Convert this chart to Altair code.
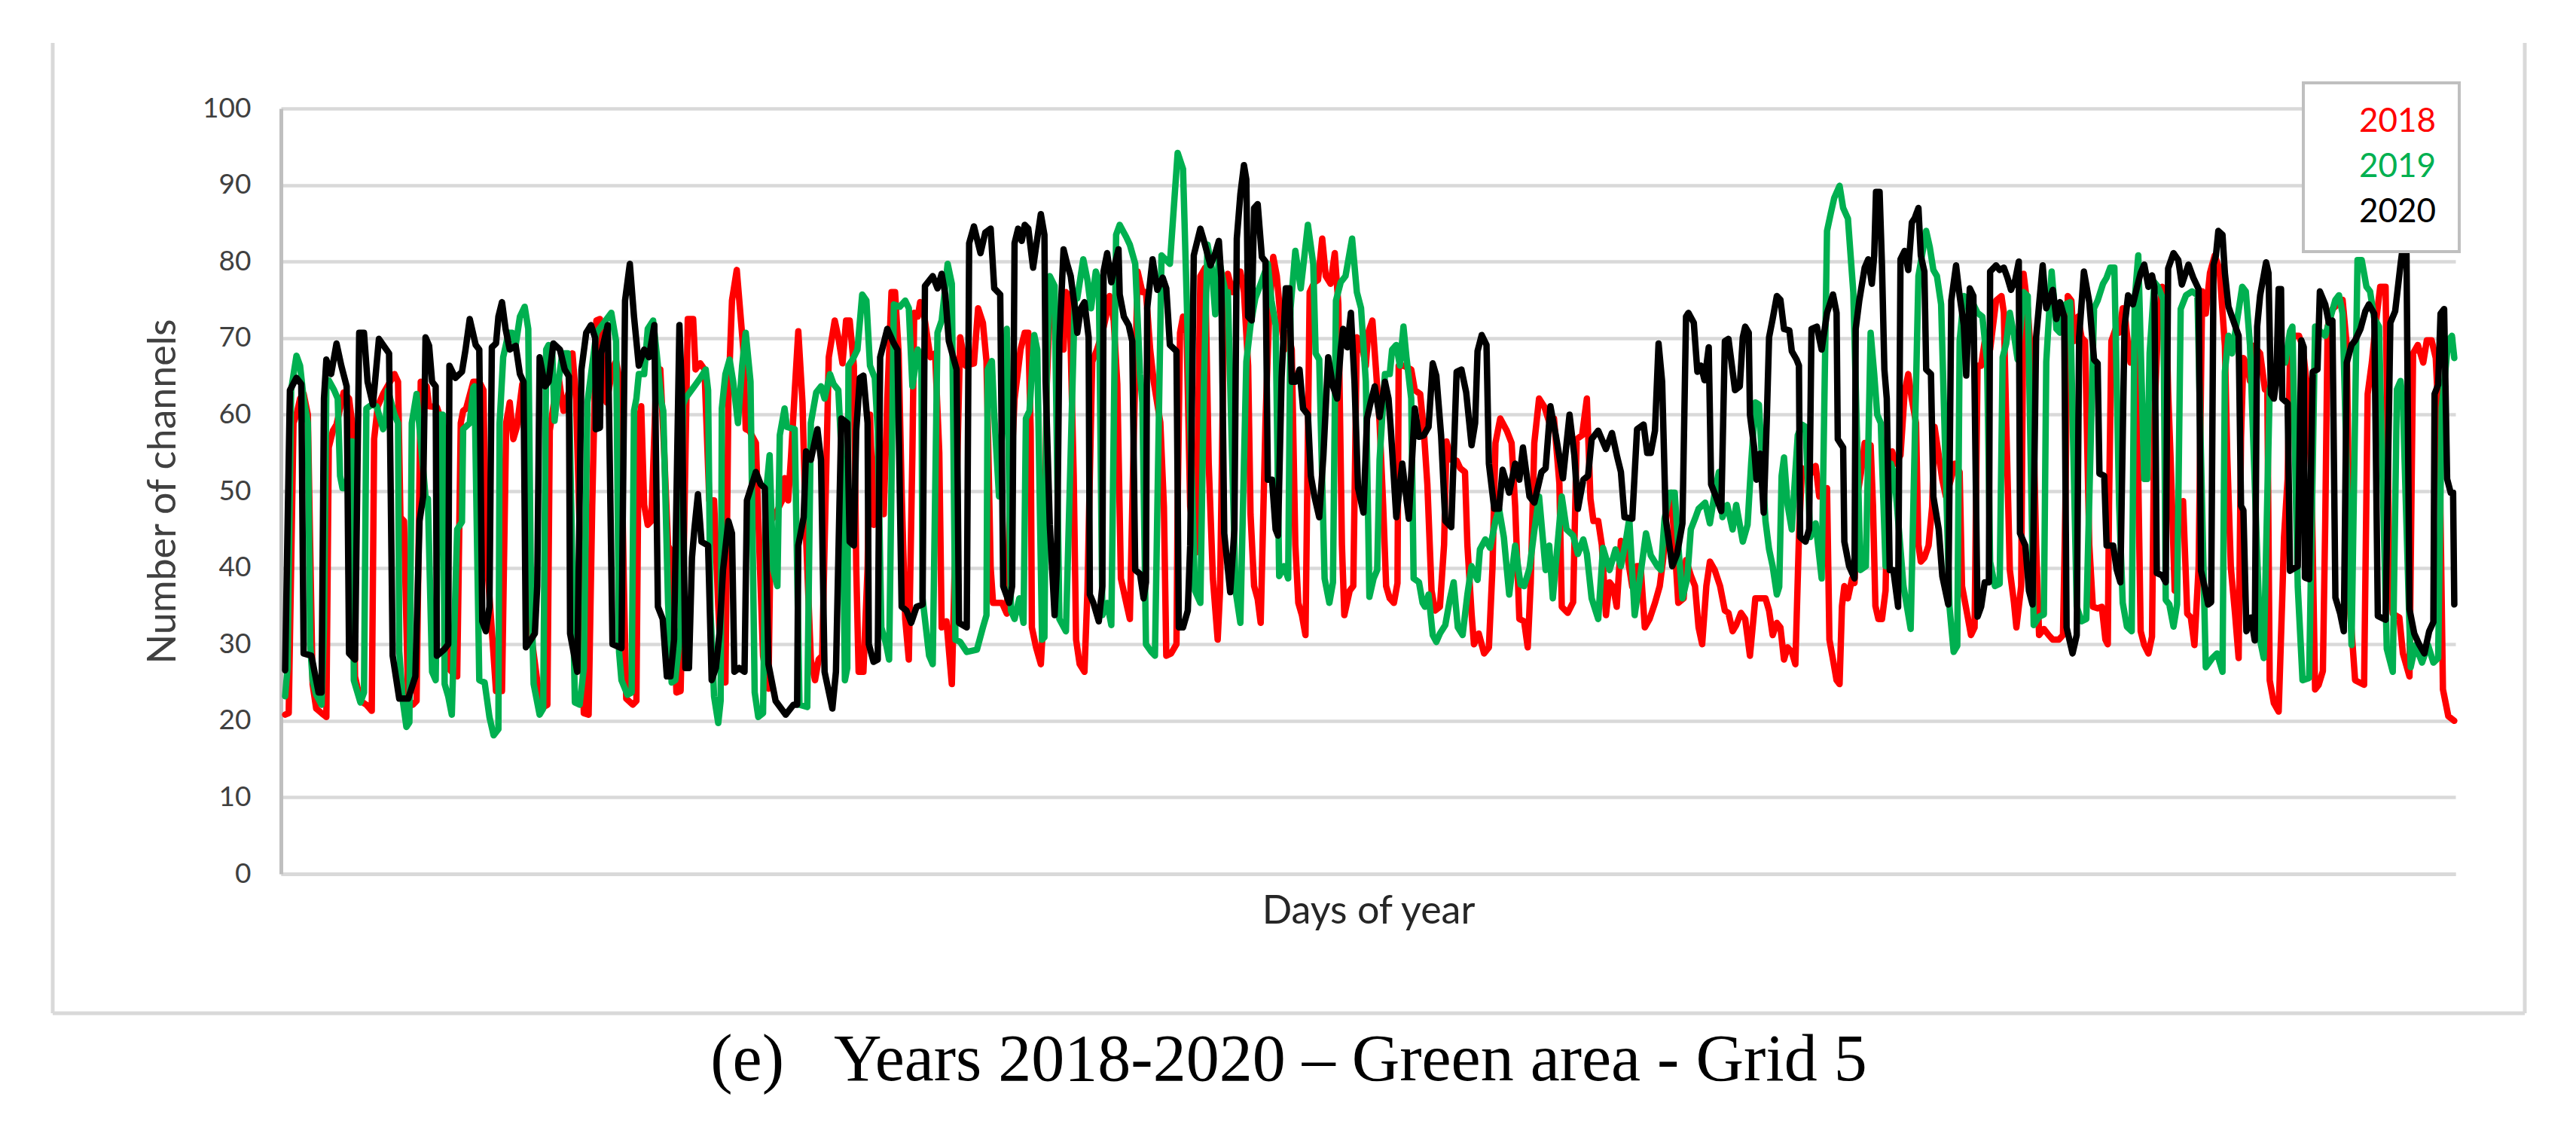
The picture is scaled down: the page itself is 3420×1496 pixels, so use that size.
import altair as alt
import pandas as pd

YEARS = ["2018", "2019", "2020"]
COLORS = ["#ff0000", "#00b050", "#000000"]
Y_TICKS = [0, 10, 20, 30, 40, 50, 60, 70, 80, 90, 100]
TITLE = "(e)\u00a0\u00a0\u00a0Years 2018-2020 \u2013 Green area - Grid 5"

# (day of year, number of channels)
s2018 = [
    (1.7, 20.8), (2.3, 21), (3.1, 58.9), (3.6, 60), (4.2, 62.1), (4.8, 62.7), (5.5, 60), (6.3, 24.8),
    (6.9, 21.6), (7.8, 21), (8.6, 20.5), (9.0, 55.7), (9.7, 57.9), (10.3, 58.7), (11.5, 62.9), (12.4, 62.1),
    (13.0, 58.4), (13.4, 25.8), (14.3, 22.6), (15.3, 22.1), (16.2, 21.3), (16.6, 56.8), (17.2, 61.1),
    (18.1, 62.7), (20.0, 65.3), (20.6, 64.3), (21.0, 46.6), (21.6, 46.1), (22.3, 22.5), (23.1, 22.1),
    (23.7, 22.6), (24.4, 64.3), (25.4, 63.7), (25.8, 61.1), (27.1, 61), (28.4, 58), (29.0, 26.9),
    (29.6, 26.4), (30.5, 25.8), (31.1, 58.9), (31.5, 60.5), (32.0, 60.8), (33.2, 64.3), (34.2, 64.3),
    (34.9, 63.2), (35.3, 42.9), (36.6, 28.5), (37.0, 23.9), (38.0, 23.9), (38.7, 58.9), (39.3, 61.6),
    (39.9, 56.8), (40.5, 58.4), (41.4, 64), (42.2, 50), (43.1, 30), (44.5, 21.6), (45.6, 22.1),
    (46.0, 57.9), (46.8, 62.1), (47.5, 64.8), (48.3, 60.5), (49.2, 63), (49.8, 68), (50.4, 62), (51.0, 45),
    (51.7, 21), (52.5, 20.8), (53.1, 48), (53.8, 72.3), (54.4, 72.5), (55.0, 65), (55.5, 61.6), (56.5, 66),
    (57.1, 67), (57.8, 64), (58.4, 38), (58.8, 22.9), (59.9, 22.1), (60.5, 22.6), (60.9, 58.9),
    (61.3, 61.1), (61.8, 48.2), (62.4, 45.6),
    (63.0, 46.1), (63.7, 62), (64.5, 65.9), (65.1, 56), (65.8, 42.9), (66.4, 42), (67.2, 23.7), (67.9, 23.9),
    (68.5, 45), (69.1, 72.5), (70.0, 72.5), (70.4, 65.9), (71.2, 66.7), (71.9, 65.9), (72.7, 48.8),
    (73.5, 48.8), (74.2, 35), (74.8, 25.5), (75.4, 25), (75.9, 62.1), (76.5, 74.9), (77.3, 78.9), (78.0, 72.3),
    (78.4, 68.5), (78.8, 58.1), (79.4, 57.9), (80.5, 56.3), (81.1, 42), (81.7, 28.5), (82.6, 24.2),
    (83.0, 46.1), (83.8, 47), (84.9, 48.8), (85.3, 51.7), (85.9, 48.8), (86.4, 54.7), (87.0, 63), (87.6, 70.9),
    (88.3, 61.6), (88.9, 44), (89.7, 28), (90.4, 25.3), (91.0, 28), (91.6, 28.5), (92.2, 50), (92.7, 67.5),
    (93.7, 72.3), (94.3, 70.1), (95.0, 66.7), (95.6, 72.3), (96.2, 72.3), (96.9, 66.4), (97.3, 40),
    (97.7, 26.4), (98.5, 26.4), (99.2, 40), (99.6, 60), (100.2, 45.6), (101.1, 57), (101.9, 47), (102.5, 62),
    (103.2, 76), (103.8, 76), (104.4, 68), (104.9, 50), (105.5, 33.3), (106.1, 28), (106.7, 55), (107.0, 73.3),
    (107.6, 72.8), (108.0, 74.7), (108.6, 73.3), (109.7, 67.5), (110.5, 68), (111.2, 55), (111.6, 32.2),
    (112.4, 33), (113.3, 24.8), (114.1, 50), (114.7, 70.1), (115.6, 66.4), (117.0, 66.7), (117.7, 73.9),
    (118.5, 72), (119.1, 67), (119.8, 40), (120.2, 35.4), (121.7, 35.4), (122.5, 34), (123.1, 50), (123.8, 62),
    (124.8, 68.5), (125.5, 70.7), (126.1, 70.7), (126.5, 58), (126.7, 32.2), (127.4, 29.6), (128.2, 27.4),
    (128.6, 33), (129.2, 64), (129.7, 73.9), (130.5, 73), (131.3, 69), (132.0, 68.5), (132.4, 76), (133.0, 75.5),
    (133.7, 52), (134.1, 30.6), (134.7, 27.4), (135.5, 26.4), (136.0, 37), (136.8, 66.9), (137.6, 68.5),
    (138.5, 70.7), (139.1, 72.8), (139.7, 75.5), (140.4, 72.3), (141.0, 64), (141.6, 38.6), (142.5, 35.4),
    (143.1, 33.3), (143.7, 55), (144.4, 78.7), (145.2, 76), (145.8, 76), (146.5, 68.5), (147.1, 64.3),
    (148.2, 59), (148.8, 48), (149.2, 28.5), (150.0, 28.8), (150.9, 30), (151.1, 48), (151.5, 70.7),
    (152.0, 72.8), (152.6, 70.7), (153.2, 48), (154.2, 42), (154.9, 78.1), (155.7, 79.2), (156.3, 53.6),
    (157.0, 38.6), (157.8, 30.6), (158.2, 37), (158.9, 74.9), (159.5, 78.4), (160.3, 76), (161.6, 78.7),
    (162.2, 76), (162.9, 66.4), (163.3, 47), (163.9, 37.6), (164.5, 35.9), (165.0, 32.8), (165.8, 59),
    (166.4, 72.8), (167.1, 80.6), (167.7, 78.1), (168.3, 72.8), (169.0, 68.5), (169.6, 70.7), (170.2, 68.5),
    (170.8, 43), (171.3, 35.4), (171.9, 33.8), (172.5, 31.2), (173.2, 76), (174.0, 77.3), (174.6, 77.6),
    (175.3, 83), (175.9, 78.1), (176.7, 77.1), (177.4, 81.1), (178.0, 74.4), (178.6, 43), (179.0, 33.8),
    (179.9, 37), (180.5, 37.6), (181.1, 70.1), (181.8, 69.6), (182.6, 66.4), (183.0, 70.7), (183.7, 72.3),
    (184.3, 65.9), (184.9, 59), (185.5, 48.2), (186.0, 37.6),
    (186.6, 36), (187.3, 35.4), (187.9, 38), (188.1, 66.4), (188.9, 66.4), (190.2, 65.9), (190.8, 63.2),
    (191.7, 62.7), (192.3, 58), (192.9, 50.9), (193.6, 37), (194.2, 34.4), (195.0, 34.9), (195.7, 43),
    (196.1, 56.5), (196.9, 54.1), (197.8, 54), (198.4, 53), (199.2, 52.5), (199.6, 43), (200.3, 34), (200.7, 30),
    (201.5, 31.4), (202.4, 28.8), (203.2, 29.6), (203.8, 40), (204.3, 56.3), (205.1, 59.5), (206.2, 57.9),
    (207.0, 56.3), (207.6, 48), (208.3, 33.3), (209.1, 33), (209.7, 29.6), (210.2, 38), (210.8, 56.3),
    (211.6, 62.1), (212.5, 61), (213.3, 59), (214.1, 59.5), (215.0, 51), (215.4, 34.9), (216.4, 34.1),
    (217.3, 35.5), (217.9, 56.8), (218.8, 57.3), (219.6, 62.1), (220.2, 49), (220.7, 46.1), (221.5, 46.1),
    (222.1, 43), (222.8, 33.8), (223.4, 38.1), (224.0, 37.5), (224.6, 34.9), (225.3, 43.5), (226.1, 42.9),
    (227.2, 37.5), (228.0, 40.2), (228.6, 40.2), (229.3, 32.2), (230.1, 33.3), (231.0, 35.4), (231.8, 37.6),
    (232.4, 41.3), (233.0, 48), (233.7, 49.8), (234.3, 43), (234.9, 35.4), (235.8, 36), (236.2, 41), (237.0, 39),
    (237.7, 37.6), (238.3, 32.2), (238.9, 30), (239.6, 37.6), (240.2, 40.8), (241.0, 39.7), (241.9, 37.6),
    (242.7, 34.4), (243.3, 34.1), (244.0, 31.7), (244.6, 32.5), (245.4, 34.1), (246.1, 33.3), (246.9, 28.5),
    (247.8, 36),
    (248.8, 36), (249.5, 36), (250.1, 34.4), (250.7, 31.2), (251.4, 32.8), (252.0, 32.2), (252.6, 28),
    (253.2, 29.6), (253.9, 29), (254.5, 27.4), (255.1, 44), (255.6, 53), (256.4, 52), (257.4, 52.5),
    (257.9, 53.3), (258.5, 49.3), (259.1, 49.8), (259.8, 50.4), (260.2, 30.6), (260.8, 28), (261.4, 25.3),
    (261.9, 24.8), (262.3, 35), (262.7, 37.6), (263.3, 36), (264.0, 38.6), (264.4, 38), (265.0, 50), (265.6, 53),
    (266.1, 56.3), (267.1, 56), (267.5, 48), (267.9, 35), (268.4, 33.3), (269.0, 33.3), (269.6, 37), (270.0, 53),
    (270.7, 55.2), (271.3, 53.6), (272.1, 54.7), (272.8, 63), (273.4, 65.3), (274.0, 62), (274.7, 58.9),
    (275.1, 43), (275.5, 40.8), (276.1, 41.3), (276.8, 42.9), (277.4, 48), (277.8, 58.4), (278.5, 54.7),
    (279.1, 51.5), (279.7, 49.3), (280.6, 51.7), (281.2, 53.6), (282.0, 52.5), (282.4, 37.6), (283.3, 33.8),
    (283.9, 31.2), (284.5, 32.2), (285.0, 66.4), (285.6, 66.4), (286.2, 69.6), (287.1, 68.5), (288.1, 74.9),
    (289.0, 75.5), (289.4, 73.3), (289.8, 58.9), (290.4, 39.7), (291.1, 35.4), (291.5, 32.2), (292.3, 37.6),
    (292.7, 78.4), (293.4, 73.9), (294.2, 64.3), (294.8, 43), (295.3, 31.2), (296.1, 32), (296.9, 31.2),
    (297.6, 30.6), (298.6, 30.6), (299.3, 31.2), (299.7, 48), (300.1, 75.5), (300.7, 74.9), (301.1, 69.6),
    (301.8, 72.8), (302.4, 70.1), (303.0, 69.6), (303.7, 43), (304.3, 34.9), (305.1, 34.7), (305.8, 34.9),
    (306.4, 30.6), (306.8, 30), (307.0, 48), (307.4, 69.6), (308.1, 71.2), (308.7, 70.7), (309.3, 73.9),
    (309.6, 73.5), (310.2, 69), (310.6, 66.8), (311.3, 70), (311.9, 51.6), (312.3, 31.7), (312.9, 29.9),
    (313.6, 28.8), (314.2, 31), (314.6, 60), (315.2, 71.5), (315.9, 76.7), (316.5, 76), (316.9, 63),
    (317.3, 54.5), (318.0, 37), (318.6, 46), (319.4, 48.7), (320.1, 34), (320.7, 33.5), (321.3, 29.9),
    (322.0, 40), (322.6, 76.1), (323.2, 73.2), (323.9, 78.5), (324.7, 80.8), (325.5, 79), (326.4, 69),
    (326.8, 54.5), (327.4, 40), (328.1, 34), (328.7, 28.2), (329.1, 57), (329.5, 67.4), (330.2, 66.3),
    (330.6, 64.4), (331.2, 69), (332.3, 68), (333.1, 63.3), (333.5, 63.3), (333.9, 25.3), (334.6, 22.3),
    (335.4, 21.2), (336.0, 36), (336.3, 44), (336.9, 51.6), (337.3, 68), (337.9, 70.3), (338.8, 70.3),
    (339.4, 69), (340.2, 63.3), (340.9, 51.6), (341.5, 24.1), (342.1, 24.7), (342.8, 26.5), (343.2, 46),
    (343.6, 71.5), (344.4, 73.8), (345.3, 74.4), (346.1, 75), (346.8, 69), (347.4, 34), (348.2, 25.3),
    (349.7, 24.7), (350.3, 62.7), (351.0, 66.8), (351.6, 71.5), (352.4, 76.7), (353.3, 76.7), (353.9, 40),
    (354.5, 34), (355.6, 33.5), (356.2, 28.8), (357.3, 25.8), (357.9, 68), (358.7, 69.1), (359.6, 66.8),
    (360.2, 69.7), (361.0, 69.7), (361.7, 67.4), (362.3, 57.5), (362.9, 24.1), (363.8, 20.6), (364.8, 20),
]

s2019 = [
    (1.7, 23.2), (2.1, 26.9), (2.7, 63.2), (3.6, 67.7), (4.2, 66.4), (4.8, 62.1), (5.5, 58.9), (5.9, 30),
    (6.3, 25.3), (6.9, 23.4), (7.8, 22.1), (8.2, 32.2), (8.6, 63.7), (9.0, 64.5), (9.9, 63.2), (10.5, 62.1),
    (10.9, 52), (11.3, 50.4), (12.0, 50.4), (12.6, 56.5), (13.0, 56.5), (13.2, 25.3), (14.3, 22.4),
    (14.9, 23.7), (15.3, 60.8), (16.2, 61.3), (17.0, 61.1), (18.1, 58.1), (18.5, 58.9), (18.9, 63.2),
    (20.0, 60), (20.6, 58.9), (20.8, 29.1), (21.4, 22.6), (22.0, 19.2), (22.5, 19.8), (22.9, 58.9),
    (23.7, 62.7), (25.2, 49.3), (25.6, 49), (26.3, 26.4), (26.9, 25.3), (27.5, 60), (28.1, 60), (28.4, 24.8),
    (29.0, 23.2), (29.6, 20.8), (30.5, 45), (31.3, 46), (31.5, 58.1), (32.6, 58.9), (33.2, 63.5), (33.4, 63.7),
    (34.2, 25.3), (35.1, 25), (35.9, 20.5), (36.6, 18.1), (37.4, 18.9), (37.6, 58.9), (38.2, 67.5),
    (39.1, 70.7), (39.7, 70.7), (40.3, 69.1), (41.0, 72.8), (41.8, 74.1), (42.4, 71.2), (42.8, 40.8),
    (43.3, 24.8), (44.3, 20.8), (44.9, 21.6), (45.4, 68.5), (45.8, 69.1), (46.4, 68.5), (46.8, 59.2),
    (47.5, 64.5), (48.1, 68), (49.0, 68), (49.2, 64.3), (50.2, 22.4), (51.0, 22.1), (51.7, 26.9), (52.3, 61.6),
    (53.1, 66.4), (53.8, 70.7), (56.3, 73.3), (57.1, 69.6), (57.6, 29), (58.0, 25.3), (59.0, 23.4),
    (59.7, 23.7), (60.1, 60.5), (60.5, 62.1), (60.9, 65.3), (61.8, 65.3), (62.4, 71.2),
    (63.3, 72.3), (63.9, 68), (64.7, 61.6), (65.0, 60.5), (65.8, 35.4), (66.4, 25), (67.0, 25.3), (67.9, 32.2),
    (68.3, 61.3), (68.7, 62.1), (70.2, 63.7), (71.2, 64.8), (72.1, 65.9), (72.5, 63.2), (72.9, 34.4),
    (73.5, 23.2), (74.2, 19.7), (74.6, 22.6), (74.8, 60.8), (75.4, 65.3), (76.1, 67.2), (76.7, 64.3),
    (77.5, 58.9), (78.2, 66.4), (78.8, 70.7), (79.6, 64.3), (80.3, 23.7), (80.9, 20.5), (81.7, 21),
    (82.2, 49.8), (82.8, 54.7), (83.4, 39.7), (84.1, 37.6), (84.5, 57.3), (85.3, 60.8), (85.7, 58.4),
    (87.0, 58.1), (87.8, 22.1), (89.1, 21.8), (89.7, 58.9), (90.6, 62.9), (91.4, 63.7), (92.0, 62.1),
    (92.9, 65.3), (93.5, 64), (94.3, 63.2), (95.0, 52.5), (95.4, 25.3), (95.8, 26.9), (96.0, 66.4),
    (96.7, 67.2), (97.5, 68.5), (98.3, 75.7), (99.0, 74.9), (99.6, 66.4), (100.4, 64.8), (100.9, 57.9),
    (101.5, 32.2), (102.3, 30), (102.8, 28), (103.6, 74.4), (104.6, 74.1), (105.5, 74.9), (106.1, 73.9),
    (106.7, 63.7), (107.6, 68.5), (108.2, 67.5), (108.4, 36), (109.5, 28.5), (110.1, 27.4), (110.9, 70.7),
    (111.6, 72.3), (112.6, 79.7), (113.3, 77.1), (113.9, 30.6), (114.7, 30.3), (115.8, 29), (117.5, 29.3),
    (118.5, 32.2), (119.1, 33.8), (119.3, 65.9), (120.0, 67), (120.4, 60), (121.2, 49.3), (122.5, 71.2),
    (123.2, 34.4), (123.8, 33.3), (124.6, 36), (125.3, 32.8), (125.7, 59.5), (126.3, 60.5), (127.1, 70.4),
    (127.6, 68.5), (128.4, 30.6), (128.8, 30.9), (129.2, 66.4), (129.7, 78.1), (130.5, 76.8), (131.3, 33.3),
    (132.4, 31.7), (133.9, 75.5), (134.3, 75.2), (135.3, 80.3), (136.0, 77.6), (136.6, 73.9), (137.4, 78.7),
    (137.9, 77.6), (138.5, 33.8), (139.3, 35.4), (140.0, 32.5), (140.8, 83.5), (141.4, 84.8), (142.5, 83.2),
    (143.1, 82.2), (144.0, 79.7), (144.8, 65.3), (145.2, 61.6), (145.8, 30), (146.7, 29), (147.3, 28.5),
    (148.4, 80.8), (149.8, 79.7), (151.1, 94.2), (152.0, 92.1), (154.0, 37), (154.9, 35.4), (155.5, 64.3),
    (156.1, 82.2), (156.8, 79.2), (157.4, 73.1), (158.0, 80.3), (159.1, 76), (159.5, 76), (160.8, 37),
    (161.6, 32.8), (162.2, 53.6), (162.6, 66.9), (163.3, 71.7), (164.1, 75.2), (165.0, 77.1), (166.2, 79.7),
    (166.8, 74.9), (167.5, 71.7), (168.1, 38.9), (168.9, 40.2), (169.6, 38.6), (170.0, 73.9), (170.8, 81.4),
    (171.7, 76.5), (172.1, 79.2), (172.9, 84.8), (173.8, 79.7), (174.2, 68), (174.8, 67.2), (175.7, 38.6),
    (176.5, 35.4), (177.1, 38.1), (177.6, 74.9), (178.4, 77.3), (179.2, 78.1), (180.3, 83), (181.1, 76),
    (181.8, 73.9), (182.6, 64.3), (183.2, 36.2), (183.9, 38.6), (184.5, 39.7), (184.9, 54.1), (185.8, 65.3),
    (186.6, 65.3), (187.0, 68.5), (187.7, 69.1), (188.3, 66.4), (188.9, 71.5), (189.4, 67.5), (190.2, 62.1),
    (190.6, 38.6), (191.5, 38.1), (192.1, 35.4), (192.5, 34.9), (193.1, 36.5), (193.8, 31.2), (194.4, 30.3),
    (195.0, 31.4), (195.9, 32.5), (196.7, 36), (197.3, 38.1), (198.0, 32.2), (198.8, 31.2), (199.6, 36.5),
    (200.3, 40.2), (201.3, 38.4), (201.7, 42.4), (202.6, 43.7), (203.4, 42.6), (204.3, 46.1), (204.9, 47.7),
    (205.7, 44), (206.6, 36.5), (207.6, 42.9), (208.5, 37.8), (209.1, 37.6), (210.0, 39.9), (210.8, 44.8),
    (211.6, 49.3), (212.7, 39.7), (213.3, 42.9), (213.9, 36), (215.4, 49.3), (216.2, 45), (217.3, 44.2),
    (218.1, 41.8), (219.0, 43.7), (219.6, 41.8), (220.4, 36), (221.5, 33.3), (222.3, 42.6), (223.4, 39.7),
    (224.4, 42.4), (225.3, 40.2), (226.1, 43.4), (226.7, 46.4), (227.6, 33.8), (228.4, 38.1), (229.5, 44.5),
    (230.3, 41.6), (231.4, 40.2), (232.0, 39.7), (232.6, 46.4), (233.5, 49.8), (234.3, 49.8), (234.9, 42.9),
    (235.6, 36), (236.4, 38.6), (237.0, 45), (237.7, 46.4), (238.3, 47.7), (239.4, 48.5), (240.2, 45.8),
    (241.0, 49.8), (241.7, 52.5), (242.3, 46.6), (243.1, 48.2), (244.0, 45), (244.6, 48.2), (245.7, 43.4),
    (246.5, 45.6), (247.1, 53.6), (247.8, 61.6),
    (248.4, 61.3), (249.5, 46.1), (250.1, 42.4), (250.7, 40.2), (251.4, 36.5), (251.8, 37.5), (252.2, 52),
    (252.6, 54.4), (253.2, 48.2), (253.9, 45), (254.5, 52.5), (254.9, 57.3), (255.6, 58.7), (256.2, 58.4),
    (257.0, 44), (257.9, 45.8), (258.9, 38.6), (259.8, 84), (260.4, 86.2), (261.0, 88.3), (261.9, 89.9),
    (262.5, 87), (263.3, 85.6), (264.2, 76), (265.4, 39.7), (266.3, 40.2), (267.1, 70.7), (267.7, 65.3),
    (268.2, 60), (268.8, 58.9), (269.6, 40.2), (270.5, 53.6), (271.1, 52), (272.6, 37.6), (273.8, 32),
    (275.1, 78.1), (276.4, 84), (277.0, 81.9), (277.6, 78.9), (278.2, 78.1), (278.9, 74.4), (280.3, 34.9),
    (281.0, 29), (281.6, 29.8), (282.0, 69.6), (282.7, 75.5), (283.5, 75), (284.3, 74.4), (285.0, 73.3),
    (285.8, 72.8), (286.6, 66.9), (287.1, 40.8), (287.9, 37.6), (288.7, 37.9), (289.2, 67.5), (289.8, 69.3),
    (290.4, 73.3), (291.1, 70.4), (291.7, 67.2), (292.7, 76), (293.4, 75.5), (294.4, 32.5), (295.3, 33.6),
    (296.1, 33.9), (296.5, 66.9), (297.4, 78.7), (298.2, 71.2), (298.8, 70.7), (299.7, 74.4), (300.5, 74.7),
    (301.6, 34.9), (302.4, 33), (303.2, 33.3), (304.5, 73.9), (305.1, 74.9), (306.0, 77.1), (306.6, 77.9),
    (307.2, 79.2), (307.9, 79.2), (308.7, 48.2), (309.3, 35.4),
    (310.0, 32.3), (310.8, 31.7), (311.3, 75), (311.9, 80.8), (312.9, 51.6), (313.4, 51.6), (313.8, 68),
    (314.6, 77.3), (315.2, 76.7), (316.1, 75), (316.5, 35.8), (317.1, 35.2), (317.8, 32.3), (318.4, 35.2),
    (319.0, 73.8), (319.9, 75.6), (320.9, 76.1), (321.8, 75.6), (322.8, 40.5), (323.2, 27), (324.3, 28.2),
    (325.1, 28.8), (326.0, 26.4), (326.4, 65.6), (327.0, 70.3), (327.6, 68), (329.3, 76.7), (329.9, 76.1),
    (330.6, 69.1), (332.3, 30.5), (332.9, 28.2), (333.9, 63.3), (335.6, 68), (336.5, 66.8), (337.3, 70.9),
    (337.7, 71.5), (338.6, 37.5), (339.4, 25.3), (340.5, 25.6), (341.5, 71.5), (343.2, 70.3), (344.9, 75),
    (345.5, 75.6), (346.1, 73.2), (347.6, 29.9), (348.6, 80.2), (349.3, 80.2), (350.1, 76.7), (350.7, 76.1),
    (351.4, 72.6), (352.2, 71.5), (353.5, 29.4), (354.5, 26.4), (355.2, 63.3), (355.8, 64.4), (356.2, 61.5),
    (357.5, 27), (358.3, 29.9), (359.4, 27.6), (360.4, 29.9), (361.3, 27.6), (362.1, 28.2), (362.7, 60.9),
    (363.8, 69.7), (364.4, 70.3), (364.8, 67.4),
]

s2020 = [
    (1.7, 26.6), (2.5, 63.2), (3.6, 64.8), (4.4, 64), (4.8, 28.8), (6.1, 28.5), (7.3, 23.7), (7.8, 23.7),
    (8.2, 62.1), (8.6, 67.2), (9.4, 65.3), (10.3, 69.3), (11.1, 66.4), (12.0, 63.7), (12.4, 28.8), (13.4, 28),
    (14.1, 70.7), (14.9, 70.7), (15.5, 64.3), (16.4, 61.3), (17.4, 69.9), (19.1, 68), (19.7, 28.5),
    (20.8, 22.9), (22.3, 22.9), (23.5, 25.8), (24.2, 46.1), (24.8, 49.3), (25.2, 70.1), (25.8, 69),
    (26.3, 64.3), (26.9, 63.7), (27.1, 28.5), (28.3, 29.3), (29.0, 30), (29.2, 66.4), (30.2, 64.8),
    (31.3, 65.6), (31.9, 68.5), (32.6, 72.5), (33.6, 69.1), (34.2, 68.5), (34.7, 33), (35.3, 31.7),
    (35.9, 34.9), (36.3, 68.8), (37.0, 69.3), (37.4, 72.8), (38.0, 74.7), (38.6, 71.2), (39.3, 68.5),
    (40.3, 69), (41.0, 65.3), (41.6, 64.3), (42.0, 29.6), (43.5, 31.4), (43.9, 37.6), (44.3, 67.5),
    (45.2, 63.7), (45.8, 64.3), (46.6, 69.3), (47.7, 68.5), (48.5, 65.9), (49.2, 65), (49.4, 31.4),
    (50.6, 26.4), (51.3, 65.9), (52.1, 70.7), (52.9, 71.7), (53.6, 70), (53.7, 58.1), (54.4, 58.3),
    (54.6, 68), (55.7, 71.7), (56.5, 30), (58.0, 29.5), (58.6, 74.9), (59.4, 79.7), (60.1, 72.8),
    (60.9, 66.4), (61.8, 68.5),
    (62.6, 67.5), (63.5, 71.7), (64.1, 34.9), (64.9, 33.3), (65.6, 25.8), (66.2, 25.8), (66.8, 30.6),
    (67.7, 71.7), (68.1, 63.2), (68.7, 26.9), (69.3, 26.9), (69.8, 41.3), (70.2, 45), (70.8, 49.6),
    (71.4, 43.4), (72.5, 42.9), (73.1, 25.3), (73.8, 26.9), (74.4, 31.4), (75.0, 39.7), (75.9, 46.1),
    (76.5, 44.5), (76.9, 26.4), (77.7, 26.9), (78.6, 26.4), (79.0, 48.8), (80.5, 52.5), (81.3, 50.9),
    (82.0, 50.4), (82.6, 27.4), (83.8, 22.6), (85.5, 20.8), (86.8, 22.1), (87.4, 22.1), (87.6, 42.9),
    (88.5, 46.6), (88.9, 55.2), (89.7, 54.1), (90.8, 58.1), (91.4, 54.1), (92.0, 26.4), (93.3, 21.6),
    (93.9, 26.4), (94.8, 59.5), (95.8, 58.9), (96.2, 43.4), (96.9, 42.9), (97.3, 57.9), (97.9, 64.8),
    (98.5, 65.1), (99.2, 58.9), (99.4, 30), (100.2, 27.7), (100.9, 28), (101.3, 67.5), (102.5, 71.2),
    (103.6, 69.3), (104.2, 68.5), (104.9, 34.9), (105.7, 34.4), (106.5, 32.8), (107.4, 34.9), (108.4, 35.2),
    (108.8, 76.8), (110.1, 78.1), (110.9, 76.5), (111.6, 78.4), (112.2, 75.7), (112.8, 69.6), (114.1, 65.9),
    (114.5, 32.8), (115.8, 32.2), (116.2, 82.4), (117.0, 84.6), (118.1, 81.1), (118.9, 83.8), (119.8, 84.3),
    (120.4, 76.5), (121.4, 75.7), (121.9, 37.6), (122.9, 35.4),
    (123.4, 37.6), (123.8, 82.4), (124.4, 84.3), (125.0, 82.7), (125.5, 84.8), (126.1, 84.3), (126.9, 79.2),
    (127.6, 83), (128.2, 86.2), (128.8, 83.5), (129.0, 64.3), (129.7, 45.6), (130.5, 33.8), (130.9, 40.2),
    (131.3, 69.6), (132.0, 81.6), (132.6, 79.7), (133.2, 78.1), (133.9, 73.9), (134.3, 70.7), (134.9, 73.9),
    (135.5, 74.7), (136.2, 70.1), (136.4, 36.5), (137.0, 35.4), (137.9, 33), (138.5, 37.6), (138.7, 78.7),
    (139.3, 81.1), (140.0, 77.3), (140.6, 79.7), (141.2, 81.6), (141.4, 75.7), (142.1, 72.8), (142.9, 71.7),
    (143.5, 69.6), (144.0, 39.7), (144.8, 39.2), (145.4, 36), (145.8, 38.1), (146.0, 73.9), (146.9, 80.3),
    (147.7, 76.3), (148.6, 77.9), (149.2, 76.5), (149.8, 69.1), (150.9, 68.3), (151.3, 32.2), (152.0, 32.2),
    (152.8, 34.4), (153.2, 42.9), (153.8, 80.8), (154.9, 84.3), (155.5, 82.7), (156.6, 79.5), (157.4, 81.1),
    (158.0, 82.7), (158.4, 77.9), (158.9, 44.5), (159.9, 36.8), (160.6, 45), (161.0, 83), (161.6, 88.8),
    (162.2, 92.6), (162.6, 90.7), (162.9, 72.8), (163.5, 72.3), (163.9, 87), (164.5, 87.5), (165.2, 80.6),
    (165.8, 80), (166.2, 51.5), (166.9, 51.5), (167.5, 45), (167.9, 44.2), (168.5, 64.8), (169.2, 76.5),
    (169.8, 76.5), (170.2, 64.3), (170.8, 64.3), (171.5, 65.9), (172.1, 60.8), (172.9, 60), (173.4, 52),
    (174.0, 49.3), (174.8, 46.6), (175.5, 54.7), (176.3, 67.5), (177.1, 63.7), (177.8, 62.1), (178.4, 68.5),
    (178.8, 71.2), (179.5, 68.8), (180.1, 73.3), (180.7, 64.3), (181.3, 50.4), (182.2, 47.2), (182.8, 59.5),
    (183.4, 61.6), (184.1, 63.7), (184.9, 59.7), (185.8, 64.3),
    (186.4, 62.1), (186.8, 57.9), (187.7, 46.6), (188.7, 53.6), (189.8, 46.4), (190.8, 60.8), (191.5, 57.1),
    (192.3, 57.3), (193.1, 58.4), (193.8, 66.7), (194.4, 65.1), (195.2, 57.3), (195.9, 46.1), (196.9, 45.3),
    (197.8, 65.6), (198.6, 65.9), (199.4, 62.9), (200.3, 56), (200.9, 58.9), (201.3, 68.3), (202.0, 70.4),
    (202.8, 69.1), (203.2, 53.6), (204.1, 47.7), (204.9, 47.7), (205.5, 52.8), (206.6, 49.8), (207.6, 53.6),
    (208.3, 51.5), (208.9, 55.7), (210.0, 49.3), (210.8, 48.5), (212.0, 52.5), (212.7, 53), (213.5, 61.1),
    (214.4, 57.3), (215.6, 51.7), (216.7, 60), (217.5, 54.7), (218.1, 47.7), (219.0, 51.5), (219.8, 52),
    (220.4, 56.8), (221.5, 57.9), (222.8, 55.5), (223.8, 57.6), (224.7, 54.4), (225.3, 52.5), (225.9, 46.6),
    (227.2, 46.4), (228.0, 58.1), (229.1, 58.7), (229.7, 55), (230.3, 55), (231.0, 57.9), (231.6, 69.3),
    (232.2, 64.3), (232.8, 46.4), (233.9, 40.2), (234.7, 41.8), (235.6, 45.8), (236.2, 72.8), (236.6, 73.3),
    (237.5, 72), (238.1, 65.6), (238.7, 66.4), (239.3, 64.5), (240.0, 68.8), (240.4, 50.9), (241.2, 49.3),
    (242.1, 47.4), (242.7, 69.6), (243.3, 69.9), (244.4, 63.2), (245.2, 63.7), (245.7, 70.1), (246.1, 71.5),
    (246.7, 70.7), (246.9, 60),
    (247.6, 55.7), (248.0, 51.5), (248.6, 54.9), (249.2, 47.2), (249.7, 58.9), (250.1, 70.1), (250.7, 72.5),
    (251.4, 75.5), (252.0, 75), (252.6, 71.2), (253.5, 71), (253.9, 68.3), (254.7, 67.2), (255.1, 66.4),
    (255.3, 44), (256.2, 43.4), (256.8, 45), (257.2, 71.2), (258.1, 71.5), (258.9, 68.5), (259.8, 73.3),
    (260.8, 75.7), (261.4, 73.3), (261.6, 56.8), (262.5, 55.7), (262.7, 43.4), (263.5, 40.2), (264.4, 38.6),
    (264.6, 71.2), (265.2, 74.9), (266.1, 79.2), (266.7, 80.3), (267.3, 77.1), (267.7, 80.8), (268.0, 89.1),
    (268.6, 89.1), (269.0, 79.5), (269.4, 65.9), (269.8, 62.1), (270.3, 39.7), (270.9, 39.7), (271.7, 34.9),
    (272.1, 80.3), (272.8, 81.4), (273.4, 78.9), (274.0, 85.1), (274.5, 85.7), (275.1, 87), (275.5, 80.8),
    (276.1, 78.7), (276.4, 65.9), (277.2, 65.3), (277.6, 49.3), (278.5, 45), (279.1, 38.9), (280.1, 35.2),
    (280.6, 74.9), (281.4, 79.5), (282.0, 75.5), (282.7, 71.7), (283.1, 65.1), (283.7, 76.5), (284.3, 75.5),
    (285.0, 33.6), (285.6, 34.9), (286.2, 38.1), (286.9, 38.1), (287.1, 78.7), (288.1, 79.5), (288.7, 78.9),
    (289.4, 79.2), (290.0, 77.9), (290.6, 76.3), (291.3, 77.6), (291.9, 80), (292.1, 44.5), (293.0, 42.9),
    (293.6, 37), (294.2, 35.2), (294.8, 70.1), (295.9, 79.5), (296.5, 73.9), (297.6, 76.3), (298.2, 72.5),
    (298.8, 74.7), (299.5, 72.8), (299.9, 32.2), (300.9, 28.8), (301.6, 31.2), (302.0, 70.1), (302.8, 78.7),
    (303.7, 74.7), (304.5, 67.2), (305.1, 66.7), (305.4, 52.3), (306.2, 52), (306.6, 42.9), (307.7, 42.9),
    (308.3, 39.7), (308.9, 38.1),
    (309.6, 71.5), (310.2, 75.6), (311.0, 74.4), (311.7, 76.7), (312.3, 78.5), (312.9, 79.6), (313.6, 76.7),
    (314.2, 78.2), (314.6, 76.7), (315.0, 39.3), (315.9, 39), (316.5, 38.1), (316.9, 79.1), (317.8, 81.1),
    (318.6, 80.2), (319.2, 77), (320.3, 79.6), (321.1, 77.9), (322.0, 76.4), (322.4, 39.6), (323.0, 37.5),
    (323.6, 35.2), (324.1, 35.5), (324.5, 79.6), (324.9, 80.8), (325.3, 84), (326.0, 83.5), (326.4, 78.5),
    (327.0, 74.1), (327.8, 72.3), (328.7, 70.3), (329.1, 48.1), (329.5, 47.5), (330.0, 31.7), (330.8, 33.5),
    (331.4, 30.5), (331.8, 71.5), (332.3, 75.6), (333.3, 79.9), (333.7, 78.5), (334.1, 62.7), (334.6, 62.1),
    (335.0, 64.4), (335.4, 76.4), (335.8, 76.4), (336.0, 62.1), (336.9, 61.5), (337.3, 39.6), (338.6, 40.2),
    (339.2, 69.7), (339.6, 68.8), (339.8, 38.7), (340.5, 38.5), (341.1, 65.6), (341.9, 65.9), (342.3, 76.1),
    (343.2, 74.4), (343.8, 72), (344.4, 72.3), (344.9, 36.1), (345.7, 34), (346.3, 31.7), (346.8, 66.8),
    (347.6, 69.1), (348.2, 69.7), (349.1, 71.2), (349.9, 73.5), (350.5, 74.4), (351.4, 73.2), (352.0, 33.7),
    (353.3, 33.2), (354.1, 72), (354.9, 73.5), (355.8, 79.6), (356.2, 82), (356.8, 81), (357.3, 34.6),
    (358.1, 31.4), (358.9, 30), (359.8, 28.8), (360.6, 31.7), (361.3, 32.9), (361.5, 62.7), (362.1, 63.9),
    (362.5, 73.2), (363.1, 73.8), (363.6, 51.6), (364.2, 49.8), (364.6, 49.8), (364.8, 35.2),
]

rows = []
for year, pts in zip(YEARS, [s2018, s2019, s2020]):
    for d, v in pts:
        rows.append({"year": year, "day": d, "value": v})
df = pd.DataFrame(rows)

W, H = 2887, 1016
GRID = "#d9d9d9"
label_color = alt.ExprRef(
    expr="datum.label == '2018' ? '#ff0000' : (datum.label == '2019' ? '#00b050' : '#000000')"
)

lines = alt.Chart(df).mark_line(strokeWidth=8.5, strokeJoin="round", strokeCap="round").encode(
    x=alt.X(
        "day:Q",
        scale=alt.Scale(domain=[1, 365], nice=False, zero=False),
        axis=alt.Axis(
            title="Days of year", labels=False, ticks=False, grid=False,
            domainColor=GRID, domainWidth=5,
            titleFont="Lato", titleFontSize=52, titleFontWeight="normal", titleColor="#262626",
            titleY=65, titleBaseline="alphabetic",
        ),
    ),
    y=alt.Y(
        "value:Q",
        scale=alt.Scale(domain=[0, 100], nice=False),
        axis=alt.Axis(
            title="Number of channels", values=Y_TICKS, ticks=False, labelPadding=40,
            labelFont="Lato", labelFontSize=37, labelColor="#404040",
            grid=True, gridColor=GRID, gridWidth=4.5,
            domainColor="#bfbfbf", domainWidth=5,
            titleFont="Lato", titleFontSize=52, titleFontWeight="normal", titleColor="#404040",
            titleX=-141, titleY=508, titleBaseline="alphabetic", titleAlign="center",
        ),
    ),
    color=alt.Color(
        "year:N",
        scale=alt.Scale(domain=YEARS, range=COLORS),
        legend=alt.Legend(
            title=None, orient="none", legendX=2685, legendY=-34, direction="vertical",
            fillColor="white", strokeColor="#bfbfbf", padding=30,
            labelFont="Lato", labelFontSize=44, labelColor=label_color,
            symbolOpacity=0, symbolSize=100, symbolStrokeWidth=0, labelOffset=0,
            rowPadding=16,
        ),
    ),
)

frame_data = alt.Data(values=[{"k": 0}])
frame_left = alt.Chart(frame_data).mark_rule(color=GRID, strokeWidth=5).encode(
    x=alt.value(-303), y=alt.value(-87), y2=alt.value(1201)
)
frame_right = alt.Chart(frame_data).mark_rule(color=GRID, strokeWidth=5).encode(
    x=alt.value(2979), y=alt.value(-87), y2=alt.value(1201)
)
frame_bottom = alt.Chart(frame_data).mark_rule(color=GRID, strokeWidth=5).encode(
    x=alt.value(-303), x2=alt.value(2979), y=alt.value(1201)
)

chart = alt.layer(frame_left, frame_right, frame_bottom, lines).properties(
    width=W,
    height=H,
    autosize="none",
    padding={"left": 365, "top": 136, "right": 152, "bottom": 320},
    background="white",
    title=alt.TitleParams(
        TITLE, orient="bottom", anchor="middle", frame="bounds",
        font="Liberation Serif", fontSize=88, fontWeight="normal", color="#000000",
        baseline="alphabetic", offset=86,
    ),
).configure_view(stroke=None).configure_legend(strokeWidth=4)

chart.save("out.html", embed_options={"renderer": "svg", "actions": False})
